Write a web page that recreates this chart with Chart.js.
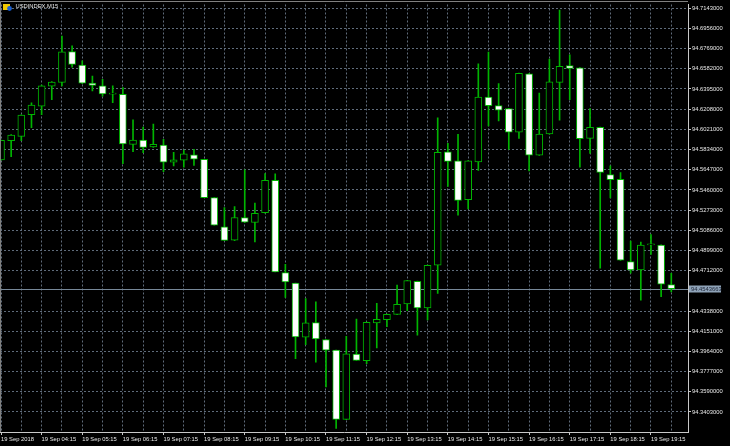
<!DOCTYPE html>
<html>
<head>
<meta charset="utf-8">
<title>USDINDEX,M15</title>
<script src="https://cdn.jsdelivr.net/npm/chart.js@4.4.0/dist/chart.umd.min.js"></script>
<style>
  html, body { margin: 0; padding: 0; background: #000; }
  canvas { display: block; }
</style>
</head>
<body>
<canvas id="chart" width="730" height="446"></canvas>
<script>
// USDINDEX M15, 19 Sep 2018, 03:15 .. 19:45
const symbol = 'USDINDEX,M15';
const bidPrice = 94.4543663;

const opens = [
  94.5738, 94.5916, 94.5956, 94.6158, 94.6236, 94.6420, 94.6457, 94.6742, 94.6616, 94.6450,
  94.6425, 94.6348, 94.6346, 94.5882, 94.5922, 94.5858, 94.5876, 94.5716, 94.5735, 94.5784,
  94.5744, 94.5388, 94.5117, 94.4995, 94.5204, 94.5158, 94.5250, 94.5548, 94.4694, 94.4596,
  94.4095, 94.4230, 94.4074, 94.3975, 94.3334, 94.3938, 94.3878, 94.4228, 94.4258, 94.4307,
  94.4403, 94.4614, 94.4366, 94.4762, 94.5812, 94.5729, 94.5370, 94.5720, 94.6319, 94.6241,
  94.6214, 94.5996, 94.6536, 94.5781, 94.5978, 94.6457, 94.6613, 94.6591, 94.5937, 94.6039,
  94.5603, 94.5557, 94.4795, 94.4719, 94.4951, 94.4949, 94.4583
];
const highs = [
  94.5921, 94.5972, 94.6156, 94.6266, 94.6432, 94.6464, 94.6886, 94.6794, 94.6656, 94.6515,
  94.6484, 94.6425, 94.6407, 94.6109, 94.6042, 94.6070, 94.5928, 94.5808, 94.5830, 94.5836,
  94.5744, 94.5388, 94.5296, 94.5305, 94.5646, 94.5338, 94.5612, 94.5609, 94.4771, 94.4596,
  94.4454, 94.4424, 94.4074, 94.3977, 94.4104, 94.4264, 94.4235, 94.4408, 94.4309, 94.4578,
  94.4622, 94.4616, 94.4764, 94.6128, 94.5891, 94.5974, 94.5731, 94.6628, 94.6736, 94.6444,
  94.6216, 94.6542, 94.6538, 94.6358, 94.6671, 94.7126, 94.6711, 94.6593, 94.6214, 94.6041,
  94.5683, 94.5621, 94.4986, 94.4976, 94.5047, 94.4951, 94.4688
];
const lows = [
  94.5736, 94.5769, 94.5916, 94.6036, 94.6158, 94.6296, 94.6423, 94.6598, 94.6444, 94.6377,
  94.6328, 94.6269, 94.5704, 94.5815, 94.5805, 94.5854, 94.5630, 94.5683, 94.5670, 94.5686,
  94.5388, 94.5133, 94.4992, 94.4990, 94.5156, 94.4979, 94.5244, 94.4700, 94.4463, 94.3896,
  94.4025, 94.3865, 94.3634, 94.3251, 94.3332, 94.3880, 94.3850, 94.3997, 94.4194, 94.4305,
  94.4341, 94.4113, 94.4255, 94.4500, 94.5492, 94.5225, 94.5283, 94.5640, 94.6054, 94.6100,
  94.5836, 94.5937, 94.5637, 94.5779, 94.5976, 94.6107, 94.6296, 94.5670, 94.5799, 94.4734,
  94.5385, 94.4806, 94.4688, 94.4439, 94.4863, 94.4470, 94.4516
];
const closes = [
  94.5919, 94.5969, 94.6153, 94.6245, 94.6425, 94.6460, 94.6739, 94.6623, 94.6450, 94.6429,
  94.6349, 94.6350, 94.5886, 94.5922, 94.5854, 94.5882, 94.5716, 94.5738, 94.5794, 94.5744,
  94.5388, 94.5133, 94.4992, 94.5204, 94.5161, 94.5244, 94.5548, 94.4700, 94.4608, 94.4099,
  94.4228, 94.4080, 94.3975, 94.3334, 94.3942, 94.3880, 94.4233, 94.4261, 94.4307, 94.4399,
  94.4620, 94.4366, 94.4762, 94.5808, 94.5725, 94.5363, 94.5729, 94.6319, 94.6241, 94.6199,
  94.5996, 94.6540, 94.5781, 94.5978, 94.6462, 94.6604, 94.6586, 94.5934, 94.6039, 94.5621,
  94.5554, 94.4808, 94.4719, 94.4949, 94.4952, 94.4587, 94.4544
];

// one label every 4 bars (hourly)
const xTickLabels = [
  '19 Sep 2018', '19 Sep 04:15', '19 Sep 05:15', '19 Sep 06:15', '19 Sep 07:15',
  '19 Sep 08:15', '19 Sep 09:15', '19 Sep 10:15', '19 Sep 11:15', '19 Sep 12:15',
  '19 Sep 13:15', '19 Sep 14:15', '19 Sep 15:15', '19 Sep 16:15', '19 Sep 17:15',
  '19 Sep 18:15', '19 Sep 19:15'
];
const yTicks = [
  94.3403, 94.3590, 94.3777, 94.3964, 94.4151, 94.4338, 94.4712, 94.4899, 94.5086, 94.5273,
  94.5460, 94.5647, 94.5834, 94.6021, 94.6208, 94.6395, 94.6582, 94.6769, 94.6956, 94.7143
];

const GREEN = '#00b400';
const GRID = '#5f6b7a';
const AXIS = '#c8c8c8';
const TEXT = '#e8e8e8';
const BIDLINE = '#778899';

Chart.defaults.font.family = '"Liberation Sans", Arial, sans-serif';
Chart.defaults.font.size = 5.8;

const idx = opens.map((_, i) => i);
const gridBars = idx.filter(i => i % 2 === 0);

const frame = {
  id: 'frame',
  beforeDraw(chart) {
    const c = chart.ctx;
    c.save();
    c.fillStyle = '#000';
    c.fillRect(0, 0, chart.width, chart.height);
    c.restore();
  },
  beforeDatasetsDraw(chart) {
    const c = chart.ctx, a = chart.chartArea;
    const y = Math.round(chart.scales.y.getPixelForValue(bidPrice)) + 0.5;
    c.save();
    c.strokeStyle = BIDLINE;
    c.lineWidth = 1;
    c.beginPath();
    c.moveTo(a.left, y);
    c.lineTo(a.right, y);
    c.stroke();
    c.restore();
  },
  afterDraw(chart) {
    const c = chart.ctx, a = chart.chartArea;
    c.save();
    // frame top / left
    c.strokeStyle = '#808080';
    c.lineWidth = 1;
    c.beginPath();
    c.moveTo(0.5, a.bottom);
    c.lineTo(0.5, 1.5);
    c.lineTo(a.right, 1.5);
    c.stroke();

    // bid label on price axis
    const y = Math.round(chart.scales.y.getPixelForValue(bidPrice)) + 0.5;
    c.fillStyle = '#8fa3b8';
    c.fillRect(a.right + 1, y - 4, 32, 7);
    c.fillStyle = '#1c2435';
    c.font = '5.8px "Liberation Sans", Arial, sans-serif';
    c.textBaseline = 'middle';
    c.textAlign = 'left';
    c.fillText(bidPrice.toFixed(7), a.right + 3, y - 0.5);

    // symbol title with icon
    c.fillStyle = '#f0c800';
    c.fillRect(3, 4, 7, 6);
    c.fillStyle = '#1a5fd0';
    c.beginPath();
    c.arc(9.5, 8.5, 2.4, 0, Math.PI * 2);
    c.fill();
    c.fillStyle = TEXT;
    c.fillText(symbol, 15.5, 6.8);
    c.restore();
  }
};

new Chart(document.getElementById('chart'), {
  type: 'bar',
  data: {
    datasets: [
      {
        label: 'body',
        data: idx.map(i => ({ x: i, y: [opens[i], closes[i]] })),
        backgroundColor: idx.map(i => closes[i] < opens[i] ? '#ffffff' : '#000000'),
        borderColor: GREEN,
        borderWidth: 1,
        borderSkipped: false,
        barThickness: 7,
        minBarLength: 1,
        grouped: false
      },
      {
        label: 'wick',
        data: idx.map(i => ({ x: i, y: [lows[i], highs[i]] })),
        backgroundColor: GREEN,
        borderWidth: 0,
        barThickness: 1,
        grouped: false
      }
    ]
  },
  options: {
    responsive: false,
    animation: false,
    devicePixelRatio: 1,
    layout: { padding: { top: 2, left: 0, right: 0, bottom: 0 } },
    plugins: {
      legend: { display: false },
      tooltip: { enabled: false }
    },
    scales: {
      x: {
        type: 'linear',
        position: 'bottom',
        min: -0.0985,
        max: 67.645,
        offset: false,
        afterBuildTicks: s => { s.ticks = gridBars.map(v => ({ value: v })); },
        afterFit: s => { s.height = 14; },
        ticks: {
          autoSkip: false,
          maxRotation: 0,
          minRotation: 0,
          align: 'start',
          padding: 1,
          color: TEXT,
          callback: v => (v % 4 === 0 ? xTickLabels[v / 4] : '')
        },
        grid: {
          offset: false,
          color: GRID,
          tickLength: 3,
          tickColor: c => (c.tick && c.tick.value % 4 === 0 ? AXIS : 'rgba(0,0,0,0)')
        },
        border: { color: AXIS, dash: [2, 2] }
      },
      y: {
        position: 'right',
        min: 94.3217,
        max: 94.7178,
        beginAtZero: false,
        afterBuildTicks: s => { s.ticks = yTicks.map(v => ({ value: v })); },
        afterFit: s => { s.width = 42; },
        ticks: {
          padding: 1,
          color: TEXT,
          callback: v => v.toFixed(7)
        },
        grid: {
          color: GRID,
          tickLength: 3,
          tickColor: AXIS
        },
        border: { color: AXIS, dash: [2, 2] }
      }
    }
  },
  plugins: [frame]
});
</script>
</body>
</html>
